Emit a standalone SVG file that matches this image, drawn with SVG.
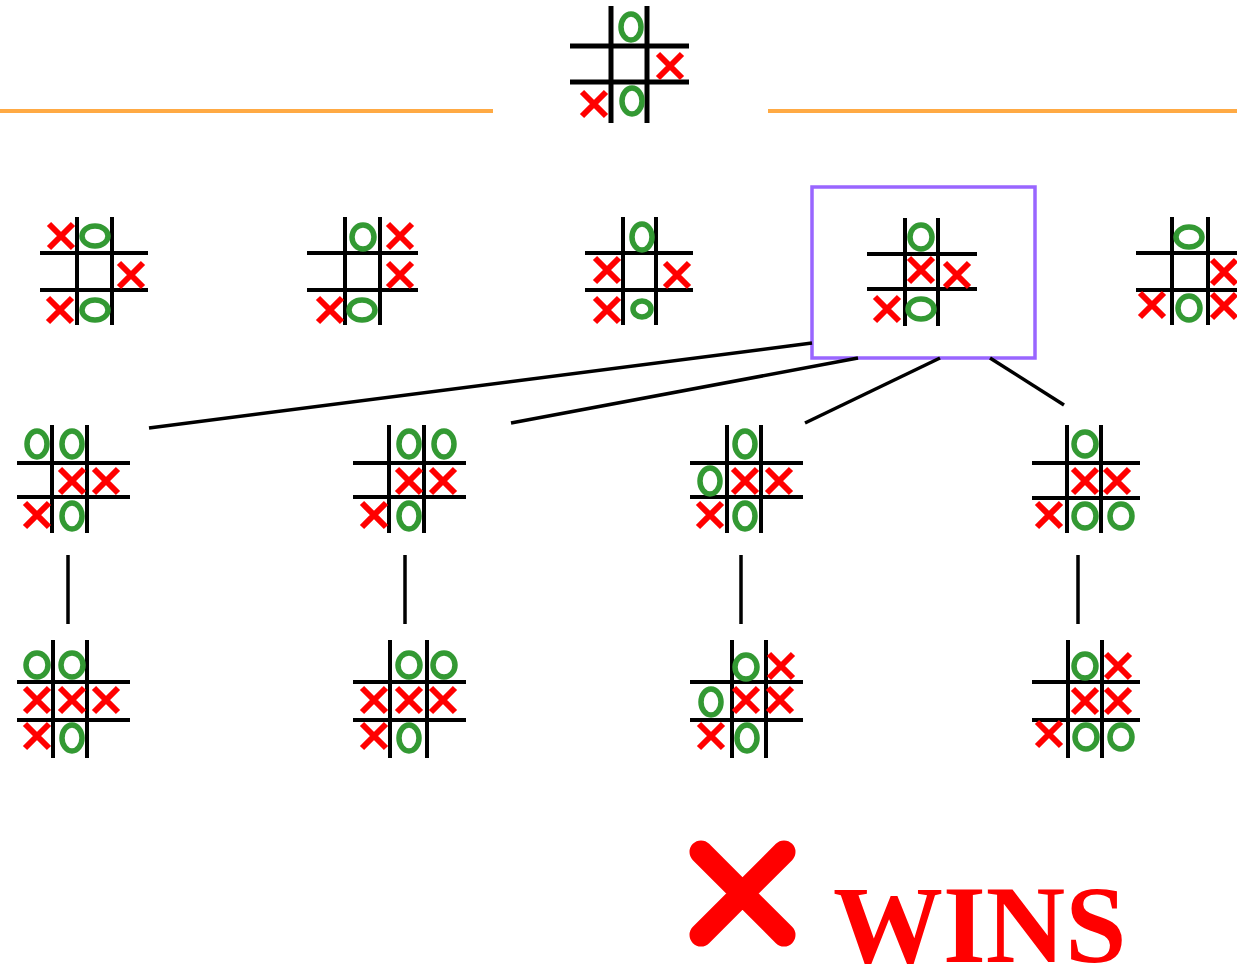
<svg xmlns="http://www.w3.org/2000/svg" width="1237" height="972" viewBox="0 0 1237 972">
<style>
.g line{stroke:#000;stroke-width:4}
.top line{stroke-width:5}
.x{fill:none;stroke:#f00;stroke-width:6}
.o{fill:none;stroke:#339933;stroke-width:5.5}
.c line{stroke:#000;stroke-width:3.5}
</style>
<defs>
<path id="X" class="x" d="M-12,-12L12,12M12,-12L-12,12"/>
<ellipse id="O" class="o" rx="11" ry="12"/>
<ellipse id="Ot" class="o" rx="10" ry="13"/>
<ellipse id="Ow" class="o" rx="13" ry="10"/>
</defs>
<rect width="1237" height="972" fill="#fff"/>
<g id="divider">
<line x1="0" y1="111" x2="493" y2="111" stroke="#ffaa44" stroke-width="4"/>
<line x1="768" y1="111" x2="1237" y2="111" stroke="#ffaa44" stroke-width="4"/>
</g>
<g id="board-root" class="g top">
<line x1="611" y1="6" x2="611" y2="123"/><line x1="647" y1="6" x2="647" y2="123"/>
<line x1="570" y1="46" x2="689" y2="46"/><line x1="570" y1="82" x2="689" y2="82"/>
<use href="#Ot" x="631" y="27"/><use href="#X" x="670" y="66"/>
<use href="#X" x="594" y="104"/><use href="#Ot" x="632" y="101"/>
</g>
<g id="board-1-1" class="g">
<line x1="77" y1="217" x2="77" y2="325"/><line x1="112" y1="217" x2="112" y2="325"/>
<line x1="40" y1="253" x2="148" y2="253"/><line x1="40" y1="290" x2="148" y2="290"/>
<use href="#X" x="61" y="236"/><use href="#Ow" x="95" y="236"/><use href="#X" x="131" y="275"/>
<use href="#X" x="60" y="310"/><use href="#Ow" x="95" y="310"/>
</g>
<g id="board-1-2" class="g">
<line x1="345" y1="217" x2="345" y2="325"/><line x1="380" y1="217" x2="380" y2="325"/>
<line x1="307" y1="253" x2="418" y2="253"/><line x1="307" y1="290" x2="418" y2="290"/>
<use href="#O" x="363" y="237"/><use href="#X" x="400" y="236"/><use href="#X" x="400" y="275"/>
<use href="#X" x="330" y="310"/><use href="#Ow" x="362" y="310"/>
</g>
<g id="board-1-3" class="g">
<line x1="623" y1="217" x2="623" y2="325"/><line x1="656" y1="217" x2="656" y2="325"/>
<line x1="585" y1="253" x2="693" y2="253"/><line x1="585" y1="290" x2="693" y2="290"/>
<use href="#Ot" x="642" y="237"/><use href="#X" x="607" y="270"/><use href="#X" x="677" y="275"/>
<use href="#X" x="607" y="310"/><ellipse class="o" cx="642" cy="309" rx="9" ry="8"/>
</g>
<g id="board-1-4">
<rect x="812" y="187" width="223" height="171" fill="none" stroke="#9966ff" stroke-width="3.5"/>
<g class="g">
<line x1="905" y1="218" x2="905" y2="326"/><line x1="938" y1="218" x2="938" y2="326"/>
<line x1="867" y1="254" x2="977" y2="254"/><line x1="867" y1="289" x2="977" y2="289"/>
<use href="#O" x="921" y="237"/><use href="#X" x="921" y="270"/><use href="#X" x="957" y="275"/>
<use href="#X" x="887" y="309"/><use href="#Ow" x="921" y="309"/>
</g>
</g>
<g id="board-1-5" class="g">
<line x1="1172" y1="217" x2="1172" y2="325"/><line x1="1208" y1="217" x2="1208" y2="325"/>
<line x1="1136" y1="253" x2="1237" y2="253"/><line x1="1136" y1="290" x2="1237" y2="290"/>
<use href="#Ow" x="1189" y="237"/><use href="#X" x="1224" y="272"/>
<use href="#X" x="1152" y="305"/><use href="#O" x="1189" y="308"/><use href="#X" x="1224" y="306"/>
</g>
<g id="board-2-1" class="g">
<line x1="52" y1="425" x2="52" y2="533"/><line x1="87" y1="425" x2="87" y2="533"/>
<line x1="17" y1="463" x2="130" y2="463"/><line x1="17" y1="497" x2="130" y2="497"/>
<use href="#Ot" x="37" y="444"/><use href="#Ot" x="72" y="444"/>
<use href="#X" x="72" y="481"/><use href="#X" x="106" y="481"/>
<use href="#X" x="37" y="515"/><use href="#Ot" x="72" y="516"/>
</g>
<g id="board-2-2" class="g">
<line x1="389" y1="425" x2="389" y2="533"/><line x1="424" y1="425" x2="424" y2="533"/>
<line x1="353" y1="463" x2="466" y2="463"/><line x1="353" y1="497" x2="466" y2="497"/>
<use href="#Ot" x="409" y="444"/><use href="#Ot" x="444" y="444"/>
<use href="#X" x="409" y="481"/><use href="#X" x="443" y="481"/>
<use href="#X" x="374" y="515"/><use href="#Ot" x="409" y="516"/>
</g>
<g id="board-2-3" class="g">
<line x1="727" y1="425" x2="727" y2="533"/><line x1="761" y1="425" x2="761" y2="533"/>
<line x1="690" y1="463" x2="803" y2="463"/><line x1="690" y1="497" x2="803" y2="497"/>
<use href="#Ot" x="745" y="444"/><use href="#Ot" x="710" y="481"/>
<use href="#X" x="745" y="481"/><use href="#X" x="779" y="481"/>
<use href="#X" x="710" y="515"/><use href="#Ot" x="745" y="516"/>
</g>
<g id="board-2-4" class="g">
<line x1="1067" y1="425" x2="1067" y2="533"/><line x1="1101" y1="425" x2="1101" y2="533"/>
<line x1="1032" y1="463" x2="1140" y2="463"/><line x1="1032" y1="498" x2="1140" y2="498"/>
<use href="#O" x="1085" y="444"/>
<use href="#X" x="1085" y="481"/><use href="#X" x="1117" y="481"/>
<use href="#X" x="1049" y="515"/><use href="#O" x="1085" y="516"/><use href="#O" x="1121" y="516"/>
</g>
<g id="board-3-1" class="g">
<line x1="53" y1="640" x2="53" y2="758"/><line x1="87" y1="640" x2="87" y2="758"/>
<line x1="17" y1="682" x2="130" y2="682"/><line x1="17" y1="720" x2="130" y2="720"/>
<use href="#O" x="37" y="665"/><use href="#O" x="72" y="665"/>
<use href="#X" x="37" y="700"/><use href="#X" x="72" y="700"/><use href="#X" x="106" y="700"/>
<use href="#X" x="37" y="736"/><use href="#Ot" x="72" y="738"/>
</g>
<g id="board-3-2" class="g">
<line x1="390" y1="640" x2="390" y2="758"/><line x1="427" y1="640" x2="427" y2="758"/>
<line x1="353" y1="682" x2="466" y2="682"/><line x1="353" y1="720" x2="466" y2="720"/>
<use href="#O" x="409" y="665"/><use href="#O" x="444" y="665"/>
<use href="#X" x="374" y="700"/><use href="#X" x="409" y="700"/><use href="#X" x="443" y="700"/>
<use href="#X" x="374" y="736"/><use href="#Ot" x="409" y="738"/>
</g>
<g id="board-3-3" class="g">
<line x1="732" y1="640" x2="732" y2="758"/><line x1="766" y1="640" x2="766" y2="758"/>
<line x1="690" y1="682" x2="803" y2="682"/><line x1="690" y1="720" x2="803" y2="720"/>
<use href="#O" x="746" y="667"/><use href="#X" x="781" y="666"/>
<use href="#Ot" x="711" y="702"/><use href="#X" x="746" y="700"/><use href="#X" x="780" y="700"/>
<use href="#X" x="711" y="736"/><use href="#Ot" x="747" y="738"/>
</g>
<g id="board-3-4" class="g">
<line x1="1068" y1="640" x2="1068" y2="758"/><line x1="1102" y1="640" x2="1102" y2="758"/>
<line x1="1032" y1="682" x2="1140" y2="682"/><line x1="1032" y1="720" x2="1140" y2="720"/>
<use href="#O" x="1085" y="666"/><use href="#X" x="1118" y="666"/>
<use href="#X" x="1085" y="701"/><use href="#X" x="1118" y="701"/>
<use href="#X" x="1049" y="734"/><use href="#O" x="1086" y="737"/><use href="#O" x="1121" y="737"/>
</g>
<g id="connectors" class="c">
<line x1="812" y1="343" x2="149" y2="428"/>
<line x1="858" y1="358" x2="511" y2="423"/>
<line x1="940" y1="358" x2="805" y2="423"/>
<line x1="990" y1="358" x2="1064" y2="405"/>
<line x1="68" y1="555" x2="68" y2="624"/>
<line x1="405" y1="555" x2="405" y2="624"/>
<line x1="741" y1="555" x2="741" y2="624"/>
<line x1="1078" y1="555" x2="1078" y2="624"/>
</g>
<g id="result">
<path d="M701,852L784,935M784,852L701,935" fill="none" stroke="#f00" stroke-width="23" stroke-linecap="round"/>
<text x="833" y="962" font-family="Liberation Serif, serif" font-weight="bold" font-size="110" fill="#f00">WINS</text>
</g>
</svg>
